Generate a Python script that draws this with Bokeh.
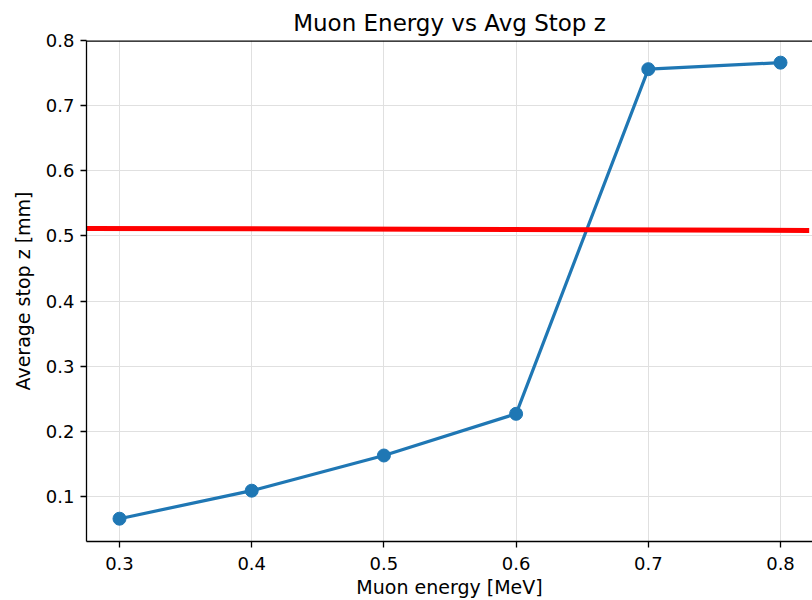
from bokeh.plotting import figure
from bokeh.models import Range1d, FixedTicker, Span
from bokeh.embed import file_html
from bokeh.resources import INLINE

energy = [0.3, 0.4, 0.5, 0.6, 0.7, 0.8]
avg_stop_z = [0.066, 0.109, 0.163, 0.227, 0.756, 0.766]
ref_x = [0.272, 0.8217]
ref_y = [0.5116, 0.5085]
x_ticks = [0.3, 0.4, 0.5, 0.6, 0.7, 0.8]
y_ticks = [0.1, 0.2, 0.3, 0.4, 0.5, 0.6, 0.7, 0.8]

FONT = "DejaVu Sans"

p = figure(width=812, height=600, output_backend="svg", toolbar_location=None,
           x_range=Range1d(0.27504, 0.8242), y_range=Range1d(0.031, 0.8),
           min_border_left=86, min_border_right=0, min_border_top=40, min_border_bottom=58,
           title="Muon Energy vs Avg Stop z")
p.title.align = "center"
p.title.text_font = FONT
p.title.text_font_size = "23px"
p.title.text_font_style = "normal"
p.title.text_color = "black"
p.title.offset = 0
p.title.standoff = 9

p.outline_line_color = None

for ax in (p.xaxis[0], p.yaxis[0]):
    ax.major_label_text_font = FONT
    ax.major_label_text_font_size = "18px"
    ax.axis_label_text_font = FONT
    ax.axis_label_text_font_size = "19px"
    ax.axis_label_text_font_style = "normal"
    ax.major_tick_out = 6
    ax.major_tick_in = 0
    ax.minor_tick_out = 0
    ax.minor_tick_in = 0
    ax.axis_line_color = "black"
    ax.axis_line_width = 1.3
    ax.major_tick_line_color = "black"
    ax.major_tick_line_width = 1.3
    ax.major_label_text_color = "black"
    ax.axis_label_text_color = "black"

p.xaxis.ticker = FixedTicker(ticks=x_ticks)
p.yaxis.ticker = FixedTicker(ticks=y_ticks)
p.xaxis.axis_label = "Muon energy [MeV]"
p.yaxis.axis_label = "Average stop z [mm]"
p.xaxis.major_label_standoff = 9
p.yaxis.major_label_standoff = 6
p.xaxis.axis_label_standoff = 3
p.yaxis.axis_label_standoff = 9

p.xgrid.grid_line_color = "#e0e0e0"
p.ygrid.grid_line_color = "#e0e0e0"
p.xgrid.grid_line_width = 1
p.ygrid.grid_line_width = 1

top_spine = Span(location=0.8, dimension="width", line_color="black", line_width=2.6)
p.add_layout(top_spine)

p.line(energy, avg_stop_z, line_color="#1f77b4", line_width=3.2)
p.scatter(energy, avg_stop_z, size=13, fill_color="#1f77b4", line_color="#1f77b4")
p.line(ref_x, ref_y, line_color="#ff0000", line_width=5)

open("out.html", "w").write(file_html(p, INLINE))
